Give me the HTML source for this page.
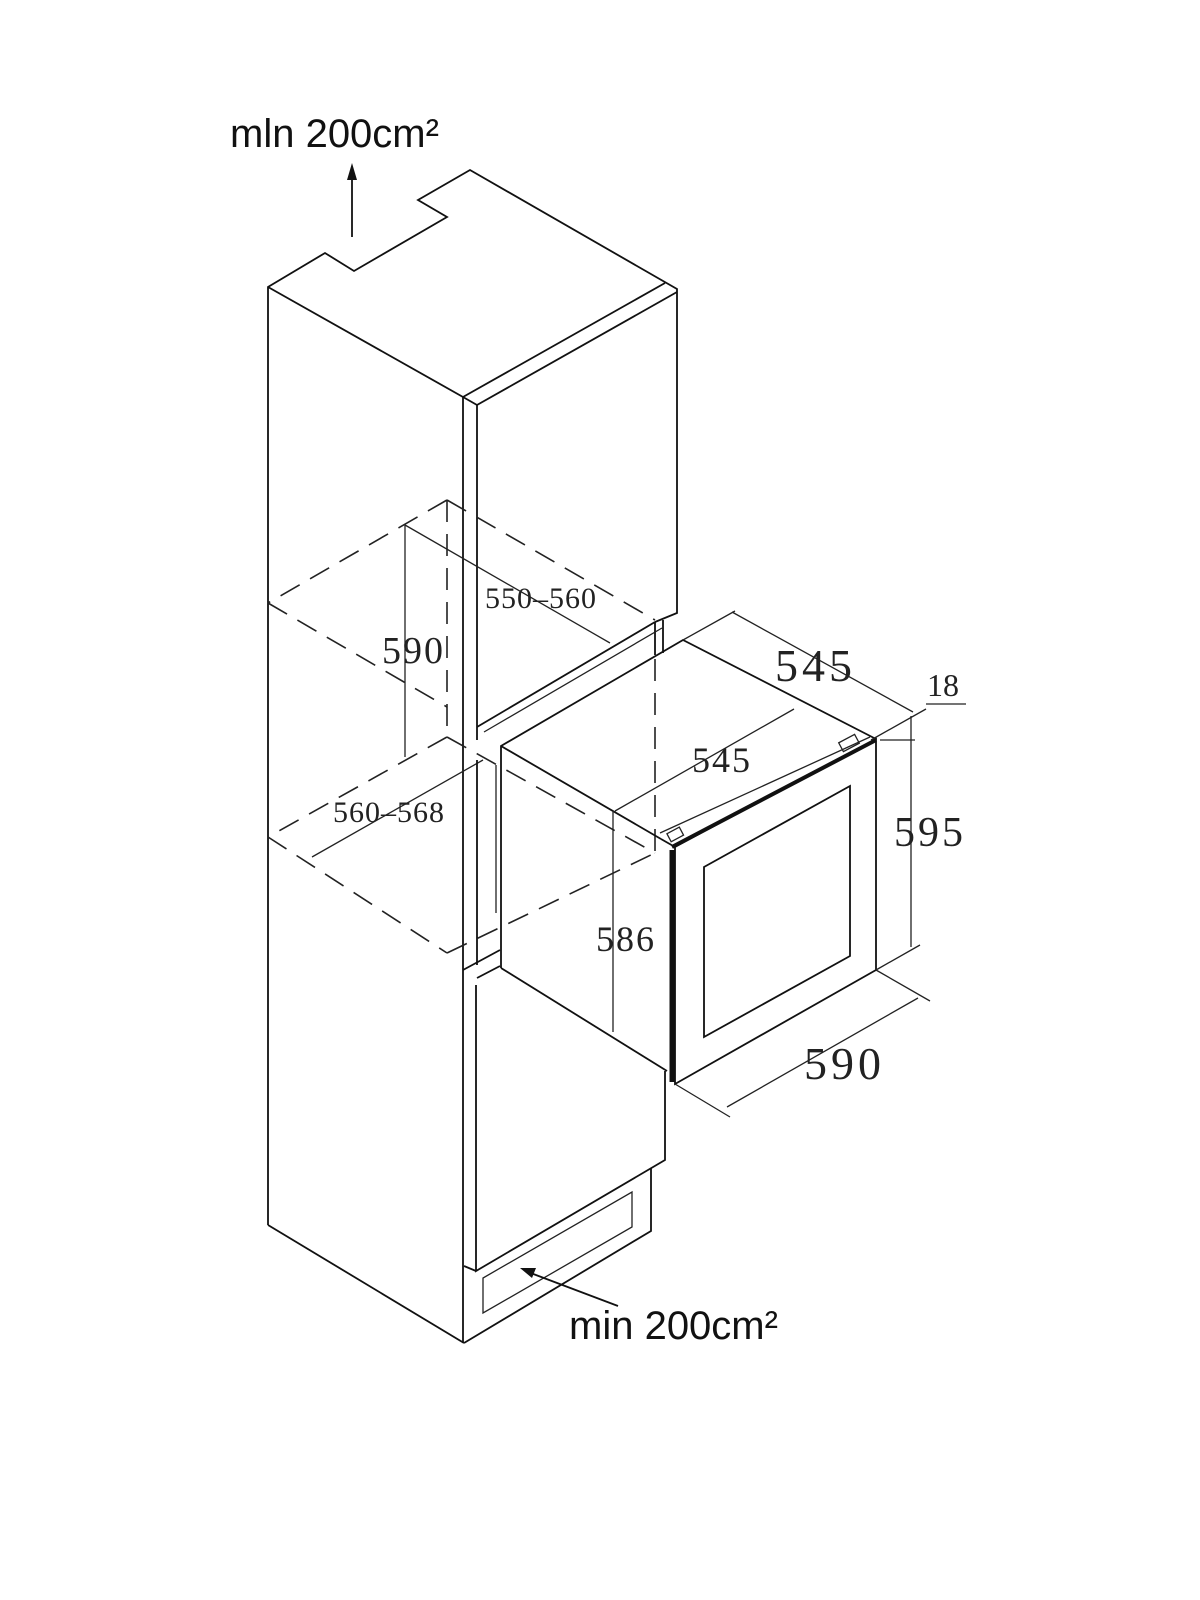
<!DOCTYPE html>
<html><head><meta charset="utf-8"><style>
html,body{margin:0;padding:0;background:#fff;width:1200px;height:1600px;overflow:hidden}
svg{display:block}
.s{fill:none;stroke:#111;stroke-width:1.8}
.t{fill:none;stroke:#222;stroke-width:1.3}
.d{fill:none;stroke:#222;stroke-width:1.6;stroke-dasharray:22 12}
.sans{font-family:"Liberation Sans",sans-serif;fill:#111}
.ser{font-family:"Liberation Serif",serif;fill:#222}
</style></head><body>
<svg width="1200" height="1600" viewBox="0 0 1200 1600">
<text class="sans" x="230" y="147" font-size="40">mln 200cm²</text>
<line class="s" x1="352" y1="237" x2="352" y2="175"/>
<polygon points="352,163 347,180 357,180" fill="#111"/>
<polyline class="s" points="268,1225 268,287 325,253 354,271 447,217 418,200 470,170 677,289 677,613 655,622"/>
<line class="s" x1="268" y1="287" x2="463" y2="397"/>
<line class="s" x1="463" y1="397" x2="665" y2="283"/>
<line class="s" x1="477" y1="405" x2="677" y2="292"/>
<line class="s" x1="463" y1="397" x2="477" y2="405"/>
<line class="s" x1="463" y1="397" x2="463" y2="1343"/>
<line class="s" x1="477" y1="405" x2="477" y2="740"/>
<line class="s" x1="268" y1="1225" x2="464" y2="1343"/>
<line class="s" x1="655" y1="622" x2="477" y2="727"/>
<line class="t" x1="662" y1="628" x2="484" y2="732"/>
<line class="s" x1="663" y1="620" x2="663" y2="653"/>
<line class="s" x1="655" y1="622" x2="655" y2="655"/>
<line class="d" x1="447" y1="500" x2="655" y2="620"/>
<line class="d" x1="447" y1="500" x2="268" y2="603"/>
<line class="d" x1="268" y1="603" x2="447" y2="707"/>
<line class="d" x1="447" y1="500" x2="447" y2="737"/>
<line class="d" x1="447" y1="737" x2="268" y2="837"/>
<line class="d" x1="268" y1="837" x2="447" y2="953"/>
<line class="d" x1="447" y1="953" x2="655" y2="853"/>
<line class="d" x1="447" y1="737" x2="655" y2="853"/>
<line class="d" x1="655" y1="625" x2="655" y2="853"/>
<line class="t" x1="405" y1="525" x2="405" y2="757"/>
<line class="t" x1="405" y1="525" x2="610" y2="643"/>
<line class="t" x1="312" y1="857" x2="483" y2="760"/>
<text class="ser" x="485" y="608" font-size="30" letter-spacing="1">550–560</text>
<text class="ser" x="382" y="663" font-size="38" letter-spacing="2">590</text>
<text class="ser" x="333" y="822" font-size="30" letter-spacing="1">560–568</text>
<line class="s" x1="477" y1="760" x2="477" y2="965"/>
<line class="t" x1="496" y1="765" x2="496" y2="913"/>
<line class="s" x1="463" y1="970" x2="500" y2="950"/>
<line class="s" x1="477" y1="978" x2="500" y2="966"/>
<polyline class="s" points="501,968 501,746 683,640 876,739"/>
<line class="s" x1="501" y1="746" x2="661" y2="839"/>
<line class="s" x1="501" y1="968" x2="667" y2="1071"/>
<line class="s" x1="661" y1="839" x2="675" y2="847"/>
<line class="t" x1="660" y1="833" x2="870" y2="737"/>
<line stroke="#111" stroke-width="4" x1="672" y1="847" x2="876" y2="740"/>
<polygon class="s" points="675,847 876,739 876,970 675,1084"/>
<line stroke="#111" stroke-width="5" x1="672" y1="850" x2="672" y2="1082"/>
<polygon class="s" points="704,867 850,786 850,956 704,1037"/>
<rect x="840" y="738" width="18" height="10" class="t" transform="rotate(-28 849 743)"/>
<rect x="668" y="830" width="14" height="9" class="t" transform="rotate(-28 675 834)"/>
<polyline class="s" points="476,985 476,1271 665,1160 665,1071"/>
<line class="s" x1="464" y1="1266" x2="476" y2="1271"/>
<polyline class="s" points="464,1343 651,1231 651,1168"/>
<polygon class="t" points="483,1278 483,1313 632,1227 632,1192"/>
<line class="s" x1="618" y1="1306" x2="528" y2="1272"/>
<polygon points="520,1268 536,1268 532,1278" fill="#111"/>
<text class="sans" x="569" y="1339" font-size="40">min 200cm²</text>
<line class="t" x1="683" y1="640" x2="735" y2="611"/>
<line class="t" x1="732" y1="612" x2="913" y2="712"/>
<text class="ser" x="775" y="681" font-size="46" letter-spacing="4">545</text>
<line class="t" x1="871" y1="740" x2="926" y2="709"/>
<line class="t" x1="926" y1="704" x2="966" y2="704"/>
<text class="ser" x="927" y="696" font-size="32">18</text>
<line class="t" x1="880" y1="740" x2="915" y2="740"/>
<line class="t" x1="911" y1="716" x2="911" y2="947"/>
<line class="t" x1="876" y1="970" x2="920" y2="945"/>
<text class="ser" x="894" y="846" font-size="42" letter-spacing="3">595</text>
<line class="t" x1="675" y1="1084" x2="730" y2="1117"/>
<line class="t" x1="876" y1="970" x2="930" y2="1001"/>
<line class="t" x1="727" y1="1107" x2="918" y2="998"/>
<text class="ser" x="804" y="1079" font-size="46" letter-spacing="4">590</text>
<line class="t" x1="615" y1="811" x2="794" y2="709"/>
<text class="ser" x="692" y="772" font-size="36" letter-spacing="2">545</text>
<line class="t" x1="613" y1="811" x2="613" y2="1032"/>
<text class="ser" x="596" y="951" font-size="36" letter-spacing="2">586</text>
</svg>
</body></html>
